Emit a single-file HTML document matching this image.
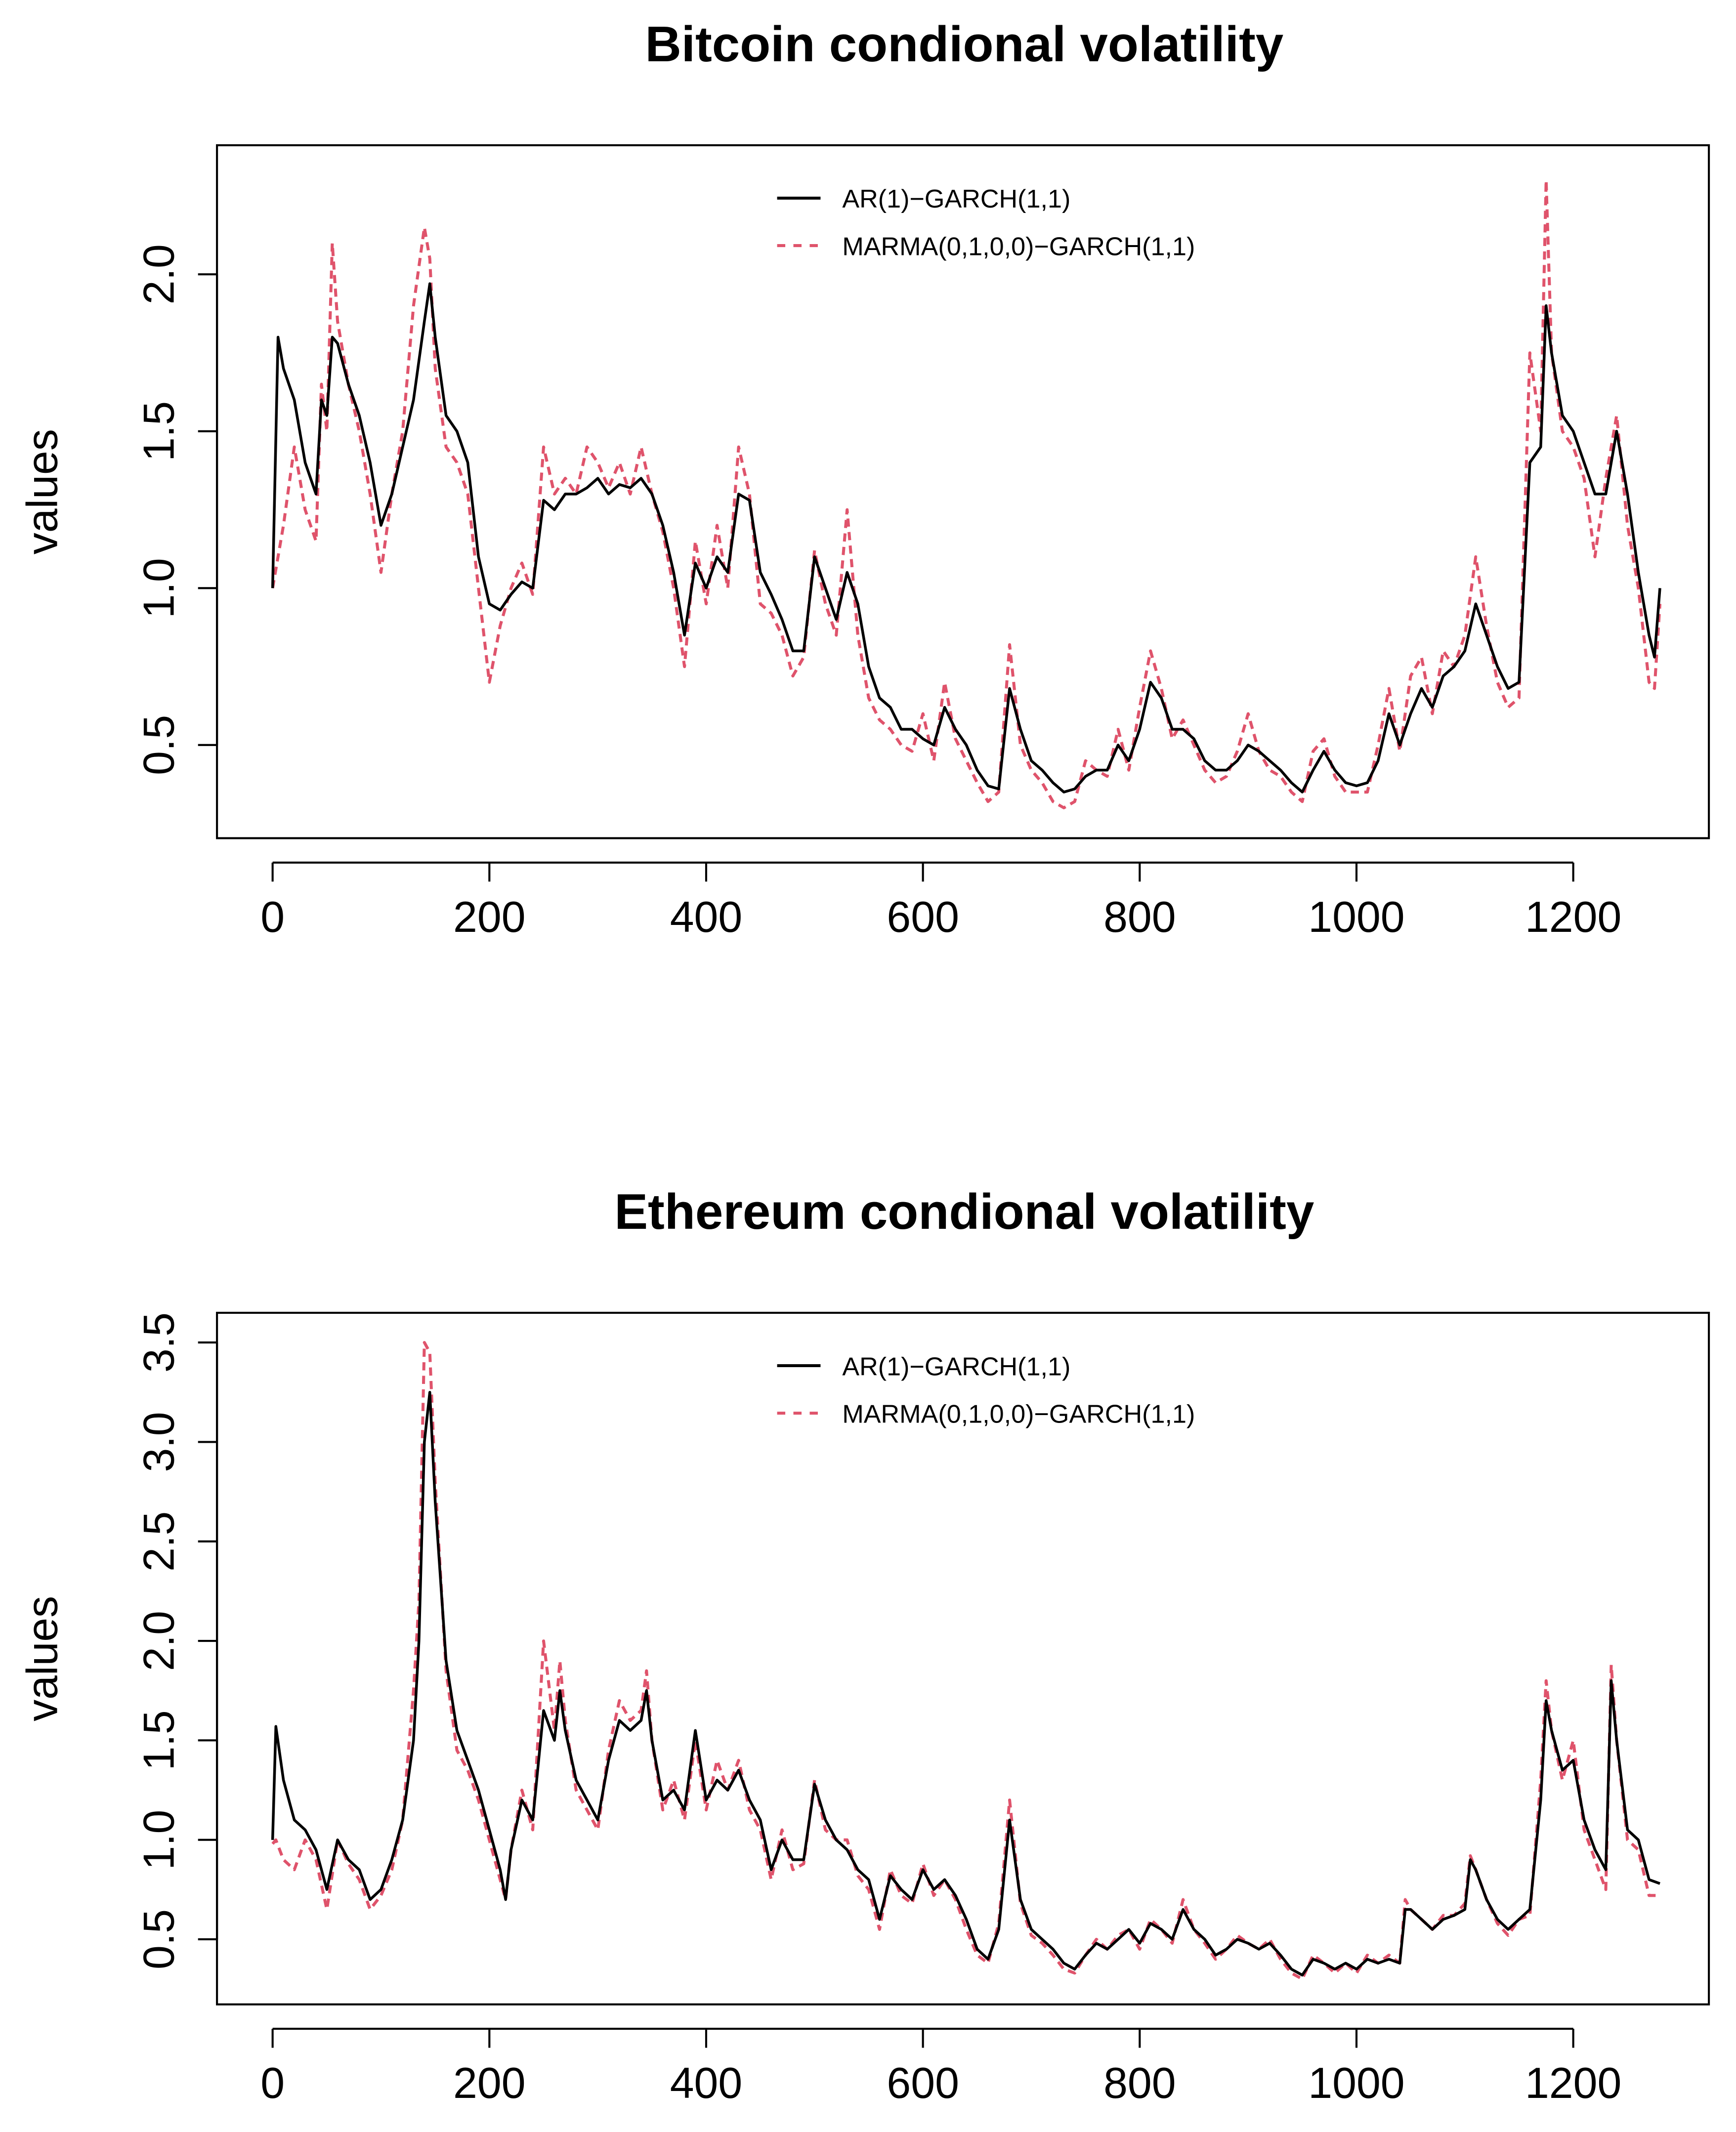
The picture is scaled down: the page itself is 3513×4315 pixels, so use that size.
<!DOCTYPE html>
<html><head><meta charset="utf-8"><style>
html,body{margin:0;padding:0;background:#fff}
svg{display:block}
text{font-family:"Liberation Sans",Arial,sans-serif;fill:#000}
</style></head><body>
<svg id="root" xmlns="http://www.w3.org/2000/svg" width="3513" height="4315" viewBox="0 0 1280 1572"></svg>
<script>
const btcX=[0,5,10,20,30,40,45,50,55,60,70,80,90,100,110,120,130,140,145,150,160,170,180,190,200,210,220,230,240,250,260,270,280,290,300,310,320,330,340,350,360,370,380,390,400,410,420,430,440,450,460,470,480,490,500,510,520,530,540,550,560,570,580,590,600,610,620,630,640,650,660,670,680,690,700,710,720,730,740,750,760,770,780,790,800,810,820,830,840,850,860,870,880,890,900,910,920,930,940,950,960,970,980,990,1000,1010,1020,1030,1040,1050,1060,1070,1080,1090,1100,1110,1120,1130,1140,1150,1160,1170,1175,1180,1190,1200,1210,1220,1230,1240,1250,1260,1270,1275,1280];
const btcAR=[1.0,1.8,1.7,1.6,1.4,1.3,1.6,1.55,1.8,1.78,1.65,1.55,1.4,1.2,1.3,1.45,1.6,1.85,1.97,1.8,1.55,1.5,1.4,1.1,0.95,0.93,0.98,1.02,1.0,1.28,1.25,1.3,1.3,1.32,1.35,1.3,1.33,1.32,1.35,1.3,1.2,1.05,0.85,1.08,1.0,1.1,1.05,1.3,1.28,1.05,0.98,0.9,0.8,0.8,1.1,1.0,0.9,1.05,0.95,0.75,0.65,0.62,0.55,0.55,0.52,0.5,0.62,0.55,0.5,0.42,0.37,0.36,0.68,0.55,0.45,0.42,0.38,0.35,0.36,0.4,0.42,0.42,0.5,0.45,0.55,0.7,0.65,0.55,0.55,0.52,0.45,0.42,0.42,0.45,0.5,0.48,0.45,0.42,0.38,0.35,0.42,0.48,0.42,0.38,0.37,0.38,0.45,0.6,0.5,0.6,0.68,0.62,0.72,0.75,0.8,0.95,0.85,0.75,0.68,0.7,1.4,1.45,1.9,1.75,1.55,1.5,1.4,1.3,1.3,1.5,1.3,1.05,0.85,0.78,1.0];
const btcMARMA=[1.0,1.1,1.2,1.45,1.25,1.15,1.65,1.5,2.1,1.85,1.65,1.5,1.3,1.05,1.3,1.5,1.9,2.15,2.05,1.7,1.45,1.4,1.3,1.0,0.7,0.88,1.0,1.08,0.98,1.45,1.3,1.35,1.3,1.45,1.4,1.32,1.4,1.3,1.45,1.3,1.18,1.0,0.75,1.15,0.95,1.2,1.0,1.45,1.3,0.95,0.92,0.85,0.72,0.78,1.12,0.95,0.85,1.25,0.85,0.65,0.58,0.55,0.5,0.48,0.6,0.45,0.7,0.52,0.45,0.38,0.32,0.35,0.82,0.5,0.42,0.38,0.32,0.3,0.32,0.45,0.42,0.4,0.55,0.42,0.62,0.8,0.68,0.52,0.58,0.5,0.42,0.38,0.4,0.48,0.6,0.48,0.42,0.4,0.35,0.32,0.48,0.52,0.4,0.35,0.35,0.35,0.5,0.68,0.48,0.72,0.78,0.6,0.8,0.75,0.85,1.1,0.88,0.7,0.62,0.65,1.75,1.5,2.3,1.75,1.5,1.45,1.35,1.1,1.35,1.55,1.2,1.0,0.7,0.68,0.95];
const ethX=[0,3,10,20,30,40,50,60,70,80,90,100,110,120,130,135,140,145,150,160,170,180,190,200,210,215,220,230,240,250,260,265,270,280,290,300,310,320,330,340,345,350,360,370,380,390,400,410,420,430,440,450,460,470,480,490,500,510,520,530,540,550,560,570,580,590,600,610,620,630,640,650,660,670,680,690,700,710,720,730,740,750,760,770,780,790,800,810,820,830,840,850,860,870,880,890,900,910,920,930,940,950,960,970,980,990,1000,1010,1020,1030,1040,1045,1050,1060,1070,1080,1090,1100,1105,1110,1120,1130,1140,1150,1160,1170,1175,1180,1190,1200,1210,1220,1230,1235,1240,1250,1260,1270,1280];
const ethAR=[1.0,1.57,1.3,1.1,1.05,0.95,0.75,1.0,0.9,0.85,0.7,0.75,0.9,1.1,1.5,2.0,3.0,3.25,2.7,1.9,1.55,1.4,1.25,1.05,0.85,0.7,0.95,1.2,1.1,1.65,1.5,1.75,1.55,1.3,1.2,1.1,1.4,1.6,1.55,1.6,1.75,1.5,1.2,1.25,1.15,1.55,1.2,1.3,1.25,1.35,1.2,1.1,0.85,1.0,0.9,0.9,1.28,1.1,1.0,0.95,0.85,0.8,0.6,0.82,0.75,0.7,0.85,0.75,0.8,0.72,0.6,0.45,0.4,0.55,1.1,0.7,0.55,0.5,0.45,0.38,0.35,0.42,0.48,0.45,0.5,0.55,0.48,0.58,0.55,0.5,0.65,0.55,0.5,0.42,0.45,0.5,0.48,0.45,0.48,0.42,0.35,0.32,0.4,0.38,0.35,0.38,0.35,0.4,0.38,0.4,0.38,0.65,0.65,0.6,0.55,0.6,0.62,0.65,0.9,0.85,0.7,0.6,0.55,0.6,0.65,1.2,1.7,1.55,1.35,1.4,1.1,0.95,0.85,1.8,1.5,1.05,1.0,0.8,0.78];
const ethMARMA=[0.98,1.0,0.9,0.85,1.0,0.9,0.65,1.0,0.88,0.8,0.65,0.72,0.85,1.1,1.75,2.2,3.5,3.45,2.8,1.85,1.45,1.35,1.2,1.0,0.8,0.7,0.95,1.25,1.05,2.0,1.55,1.9,1.6,1.25,1.15,1.05,1.45,1.7,1.6,1.65,1.85,1.5,1.15,1.3,1.1,1.5,1.15,1.4,1.25,1.4,1.15,1.05,0.8,1.05,0.85,0.88,1.3,1.05,1.0,1.0,0.82,0.75,0.55,0.85,0.72,0.68,0.88,0.72,0.8,0.7,0.55,0.42,0.38,0.58,1.2,0.68,0.52,0.48,0.42,0.35,0.33,0.42,0.5,0.45,0.52,0.55,0.45,0.6,0.55,0.48,0.7,0.55,0.48,0.4,0.45,0.52,0.48,0.45,0.5,0.4,0.33,0.3,0.42,0.38,0.33,0.38,0.33,0.42,0.38,0.42,0.38,0.7,0.65,0.6,0.55,0.62,0.62,0.68,0.92,0.85,0.7,0.58,0.52,0.6,0.62,1.3,1.8,1.55,1.3,1.5,1.05,0.9,0.75,1.88,1.5,1.0,0.95,0.72,0.72];
const xTicks=[0,200,400,600,800,1000,1200];
const btcYTicks=[0.5,1.0,1.5,2.0];
const ethYTicks=[0.5,1.0,1.5,2.0,2.5,3.0,3.5];
const legendLabels=["AR(1)\u2212GARCH(1,1)","MARMA(0,1,0,0)\u2212GARCH(1,1)"];

const NS="http://www.w3.org/2000/svg";
const root=document.getElementById('root');
function mk(tag,attrs,parent){const e=document.createElementNS(NS,tag);for(const k in attrs)e.setAttribute(k,attrs[k]);(parent||root).appendChild(e);return e;}
const RED="#DF536B";

function panel(cfg){
  const g=mk('g',{});
  
  
  const X=v=>201+(v/1200)*959;
  const Y=v=>cfg.y0+(v-cfg.v0)*cfg.k;
  const box=mk('rect',{x:160,y:cfg.top,width:1100,height:cfg.bottom-cfg.top,fill:'none',stroke:'#000','stroke-width':1.5},g);
  
  
  const t=mk('text',{x:711,y:cfg.titleY,'text-anchor':'middle','font-size':37,'font-weight':'bold'},g);
  t.textContent=cfg.title;
  
  
  const xa=mk('g',{},g);
  
  
  mk('line',{x1:X(xTicks[0]),x2:X(xTicks[xTicks.length-1]),y1:cfg.bottom+18,y2:cfg.bottom+18,stroke:'#000','stroke-width':1.5},xa);
  xTicks.forEach(v=>{
    mk('line',{x1:X(v),x2:X(v),y1:cfg.bottom+18,y2:cfg.bottom+32,stroke:'#000','stroke-width':1.5},xa);
    const tl=mk('text',{x:X(v),y:cfg.bottom+69,'text-anchor':'middle','font-size':32},xa);
    tl.textContent=v;
    
    
  });
  const ya=mk('g',{},g);
  
  
  const yt=cfg.yTicks;
  mk('line',{x1:160,x2:160,y1:Y(yt[0]),y2:Y(yt[yt.length-1]),stroke:'#000','stroke-width':1.5},ya);
  yt.forEach(v=>{
    const yy=Y(v);
    mk('line',{x1:146,x2:160,y1:yy,y2:yy,stroke:'#000','stroke-width':1.5},ya);
    const tl=mk('text',{x:0,y:0,'text-anchor':'middle','font-size':32,transform:`translate(128,${yy}) rotate(-90)`},ya);
    tl.textContent=v.toFixed(1);
    
    
  });
  const yl=mk('text',{x:0,y:0,'text-anchor':'middle','font-size':32,transform:`translate(42,${(cfg.top+cfg.bottom)/2}) rotate(-90)`},g);
  yl.textContent='values';
  
  
  const ptsA=cfg.xs.map((v,i)=>X(v).toFixed(1)+','+Y(cfg.a[i]).toFixed(1)).join(' ');
  const ptsB=cfg.xs.map((v,i)=>X(v).toFixed(1)+','+Y(cfg.b[i]).toFixed(1)).join(' ');
  const lb=mk('polyline',{points:ptsB,fill:'none',stroke:RED,'stroke-width':2.2,'stroke-dasharray':'6 4','stroke-linejoin':'round'},g);
  
  
  const la=mk('polyline',{points:ptsA,fill:'none',stroke:'#000','stroke-width':2,'stroke-linejoin':'round'},g);
  
  
  const lg=mk('g',{},g);
  
  
  const ly=cfg.top+39;
  const e1=mk('g',{},lg);
  
  
  mk('line',{x1:573,x2:605,y1:ly,y2:ly,stroke:'#000','stroke-width':2.2},e1);
  const t1=mk('text',{x:621,y:ly+7,'font-size':19},e1);t1.textContent=legendLabels[0];
  const e2=mk('g',{},lg);
  
  
  mk('line',{x1:573,x2:605,y1:ly+35,y2:ly+35,stroke:RED,'stroke-width':2.2,'stroke-dasharray':'6 6'},e2);
  const t2=mk('text',{x:621,y:ly+42,'font-size':19},e2);t2.textContent=legendLabels[1];
}
panel({name:'bitcoin',title:'Bitcoin condional volatility',titleY:45,top:107,bottom:618,y0:433.6,v0:1.0,k:-231.4,yTicks:btcYTicks,xs:btcX,a:btcAR,b:btcMARMA});
panel({name:'ethereum',title:'Ethereum condional volatility',titleY:906,top:968,bottom:1478,y0:1430,v0:0.5,k:-146.7,yTicks:ethYTicks,xs:ethX,a:ethAR,b:ethMARMA});
</script>
</body></html>
